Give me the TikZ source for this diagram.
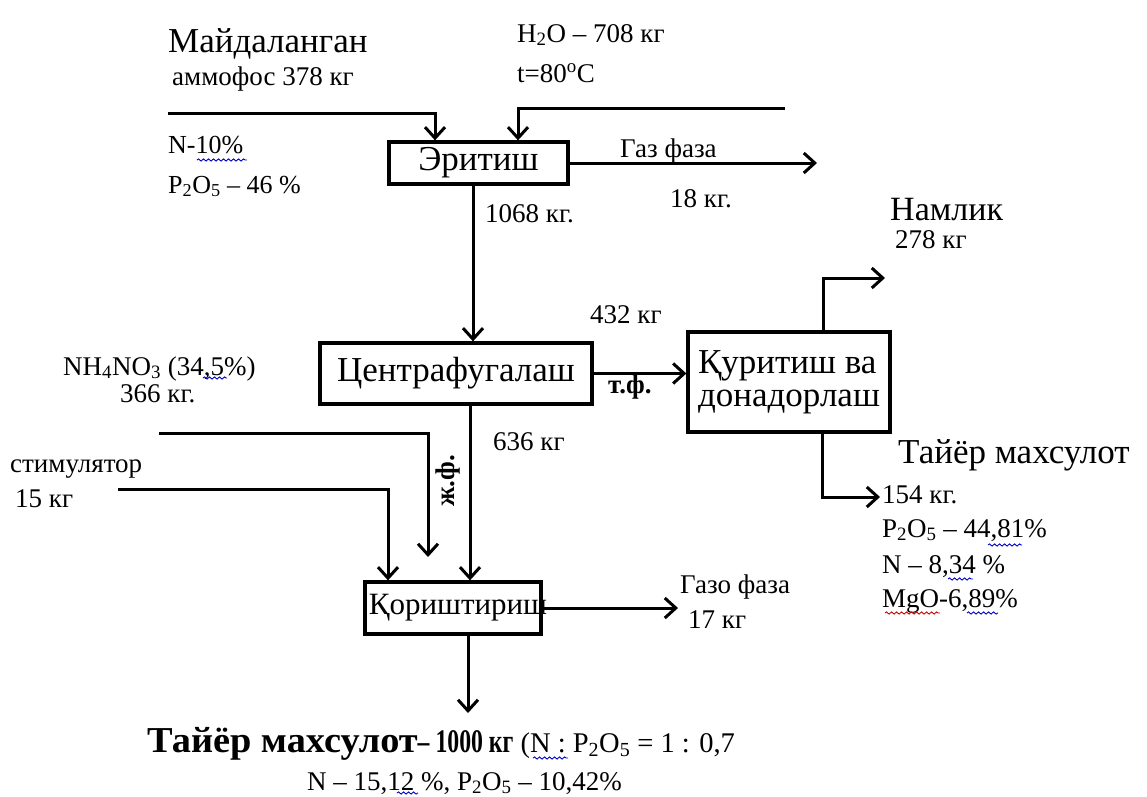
\documentclass[tikz,border=0pt]{standalone}
\usepackage{fontspec}
\setmainfont{Liberation Serif}
\usetikzlibrary{arrows.meta,decorations.pathmorphing}
\newcommand\fs[1]{\fontsize{#1}{#1}\selectfont}
\newcommand\sub[1]{\textsubscript{#1}}
\begin{document}
\begin{tikzpicture}[x=1pt,y=-1pt,
  box/.style={draw, line width=3.3pt, inner sep=0pt, align=center},
  arr/.style={line width=3pt, -{Straight Barb[length=11pt,width=20pt]}},
  lbl/.style={anchor=base west, inner sep=0pt, font=\fs{27}},
  wavy/.style={decorate, decoration={snake,amplitude=1.1pt,segment length=5pt}, line width=0.9pt, draw=blue!75!black}
]
\useasboundingbox (0,0) rectangle (1147,796);
% boxes
\node[box, minimum width=179pt, minimum height=42pt, font=\fs{35}] (erit) at (478.5,163) {Эритиш};
\node[box, minimum width=272pt, minimum height=61pt, font=\fs{35}] (centr) at (456,373.5) {Центрафугалаш};
\node[box, minimum width=202pt, minimum height=100pt, font=\fs{35}, align=left] (kurit) at (789,382) {Қуритиш ва\\[-2pt]донадорлаш};
\node[box, minimum width=176pt, minimum height=52pt, font=\fs{31}] (korish) at (453,608) {};
\node[inner sep=0pt, font=\fs{31}] (korishtxt) at ([xshift=5pt]korish.center) {Қориштириш};
% free ends
\coordinate (amf) at (168,113);
\coordinate (wat) at (785,108);
\coordinate (gas1) at (817,163);
\coordinate (naml) at (885,278);
\coordinate (prod1) at (880,497);
\coordinate (nh) at (159,433);
\coordinate (nhend) at (428,557);
\coordinate (stim) at (118,489);
\coordinate (gas2) at (678,607);
\coordinate (prod2) at (468,713);
% connectors
\draw[arr] (amf) -| ([xshift=-43.5pt]erit.north);
\draw[arr] (wat) -| ([xshift=39.5pt]erit.north);
\draw[arr] (erit.east) -- (erit.east -| gas1);
\draw[arr] ([xshift=-5.5pt]erit.south) -- ([xshift=-5.5pt]erit.south |- centr.north);
\draw[arr] (centr.east) -- (kurit.west |- centr.east);
\draw[arr] ([xshift=34pt]kurit.north) |- (naml);
\draw[arr] ([xshift=33pt]kurit.south) |- (prod1);
\draw[arr] ([xshift=14pt]centr.south) -- ([xshift=14pt]centr.south |- korish.north);
\draw[arr] (nh) -| (nhend);
\draw[arr] (stim) -| ([xshift=-65pt]korish.north);
\draw[arr] (korish.east) -- (korish.east -| gas2);
\draw[arr] (korish.south -| prod2) -- (prod2);
% labels
\node[lbl, font=\fs{35}] (t1) at (168,52) {Майдаланган};
\node[lbl] (t2) at (172,85) {аммофос 378 кг};
\node[lbl, font=\fs{26}] (t3) at (168,153) {N-10\%};
\node[lbl, font=\fs{26}] (t4) at (168,193) {P\sub{2}O\sub{5} – 46 \%};
\node[lbl] (t5) at (517,42) {H\sub{2}O – 708 кг};
\node[lbl] (t6) at (517,82) {t=80\textsuperscript{o}C};
\node[lbl] (t7) at (620,157) {Газ фаза};
\node[lbl] (t8) at (670,207) {18 кг.};
\node[lbl] (t9) at (485,222) {1068 кг.};
\node[lbl] (t10) at (63,375) {NH\sub{4}NO\sub{3} (34,5\%)};
\node[lbl] (t11) at (120,402) {366 кг.};
\node[lbl] (t12) at (10,472) {стимулятор};
\node[lbl] (t13) at (15,507) {15 кг};
\node[lbl] (t14) at (590,323) {432 кг};
\node[lbl, font=\fs{27}\bfseries] (t15) at (608,393) {т.ф.};
\node[lbl] (t16) at (493,450) {636 кг};
\node[inner sep=0pt, rotate=90, font=\fs{27}\bfseries] (t17) at (448,481) {ж.ф.};
\node[lbl, font=\fs{34}] (t18) at (890,220) {Намлик};
\node[lbl] (t19) at (895,248) {278 кг};
\node[lbl, font=\fs{35}] (t20) at (898,463) {Тайёр махсулот};
\node[lbl] (t21) at (882,503) {154 кг.};
\node[lbl] (t22) at (882,537) {P\sub{2}O\sub{5} – 44,81\%};
\node[lbl] (t23) at (882,573) {N – 8,34 \%};
\node[lbl] (t24) at (882,607) {MgO-6,89\%};
\node[lbl] (t25) at (680,593) {Газо фаза};
\node[lbl] (t26) at (688,628) {17 кг};
\node[lbl, font=\fs{28.5}] (t27) at (147,752) {{\bfseries\fs{36.5}\scalebox{1.05}[1]{Тайёр махсулот}}{\bfseries\fs{33}\scalebox{0.72}[1]{– 1000 кг}} (N : P\sub{2}O\sub{5} = 1 : 0,7};
\node[lbl] (t28) at (307,790) {N – 15,12 \%, P\sub{2}O\sub{5} – 10,42\%};
% spell-check squiggles
\draw[wavy] (197,160) -- (247,160);
\draw[wavy] (203,378) -- (227,378);
\draw[wavy] (988,545) -- (1022,545);
\draw[wavy] (948,579) -- (973,579);
\draw[wavy, draw=red!80!black] (885,613) -- (940,613);
\draw[wavy] (967,613) -- (998,613);
\draw[wavy] (533,758) -- (568,758);
\draw[wavy] (397,793) -- (418,793);
\end{tikzpicture}
\end{document}
